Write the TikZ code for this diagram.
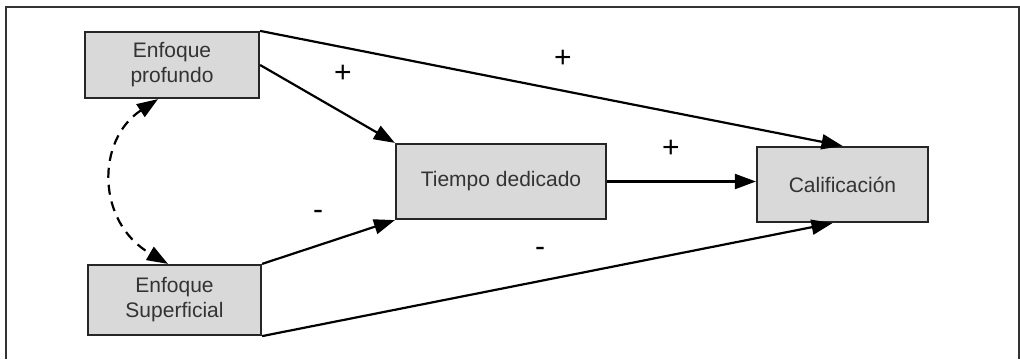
\documentclass[tikz,border=0pt]{standalone}
\usepackage{fontspec}
\setmainfont{Liberation Sans}
\usepackage{xcolor}
\usepackage{tikz}
\usetikzlibrary{arrows.meta}
\definecolor{boxgray}{HTML}{D9D9D9}
\definecolor{inkgray}{HTML}{333333}
\tikzset{
    boxnode/.style = {rectangle, draw=black!85, fill=boxgray, line width=2.2pt, align=center, inner sep=0pt, text=inkgray, font=\fontsize{21}{25}\selectfont},
    arrowline/.style = {line width=2.2pt, -{Triangle[length=21pt, width=15pt]}},
    corrline/.style = {line width=2.2pt, dash pattern=on 10pt off 7pt, {Triangle[length=21pt, width=15pt]}-{Triangle[length=21pt, width=15pt]}},
    signlabel/.style = {inner sep=0pt, font=\fontsize{30}{30}\selectfont}
}

\begin{document}
\begin{tikzpicture}[x=1pt, y=-1pt]
    \useasboundingbox (0,0) rectangle (1020,359);

    % marco
    \draw [line width=1.6pt, inkgray] (6,359) -- (6,7) -- (1019,7) -- (1019,359);

    % cajas
    \node [boxnode, minimum width=174pt, minimum height=66pt] (profundo) at (172,65) {Enfoque\\profundo};
    \node [boxnode, minimum width=173pt, minimum height=70pt] (superficial) at (174.5,300) {Enfoque\\Superficial};
    \node [boxnode, minimum width=210pt, minimum height=75pt] (tiempo) at (501,181.5) {Tiempo dedicado};
    \node [boxnode, minimum width=171pt, minimum height=75pt] (calif) at (842.5,184.5) {Calificación};

    % flechas
    \draw [arrowline] (profundo.north east) -- (calif.north);
    \draw [arrowline] (profundo.east) -- (tiempo.north west);
    \draw [arrowline] (superficial.north east) -- (tiempo.south west);
    \draw [arrowline] (superficial.south east) -- ([xshift=-10pt]calif.south);
    \draw [arrowline] (tiempo.east) -- (tiempo.east -| calif.west);
    \draw [corrline] ([xshift=-14pt]profundo.south) .. controls (96,140) and (96,222) .. ([xshift=-6.5pt]superficial.north);

    % signos
    \node [signlabel] (s1) at (343,74) {+};
    \node [signlabel] (s2) at (563,59) {+};
    \node [signlabel] (s3) at (671,149) {+};
    \node [signlabel] (s4) at (318,215) {-};
    \node [signlabel] (s5) at (540,252) {-};
\end{tikzpicture}
\end{document}
